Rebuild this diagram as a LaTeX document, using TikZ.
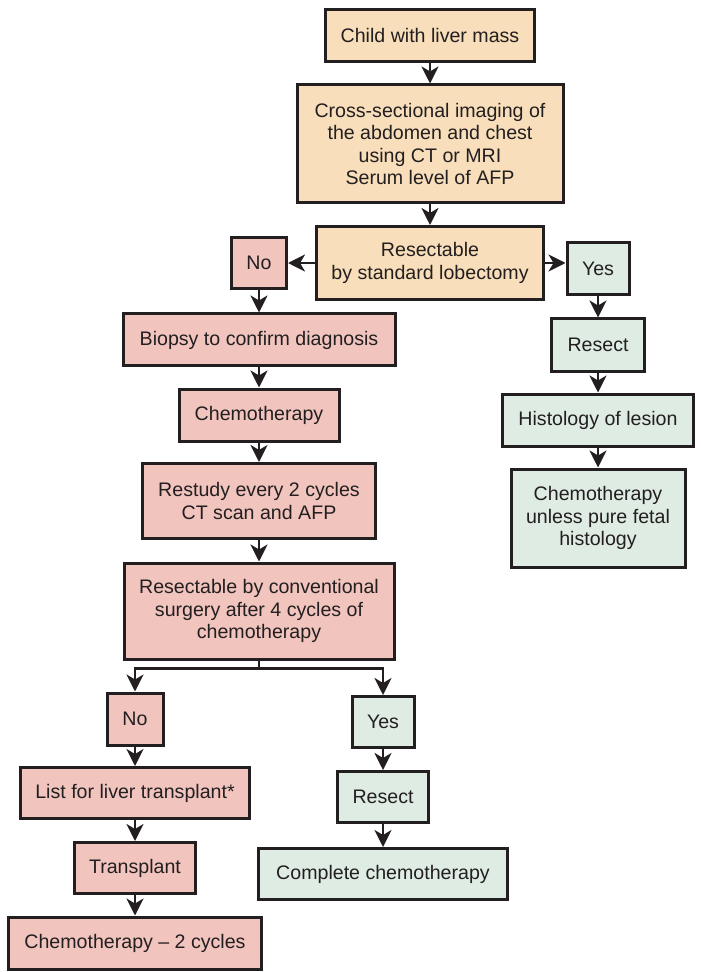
\documentclass[tikz,border=0pt]{standalone}
\usepackage{fontspec}
\setmainfont{Liberation Sans}
\usepackage{tikz}
\usetikzlibrary{arrows.meta, positioning}

\definecolor{tanbox}{RGB}{248,222,186}
\definecolor{pinkbox}{RGB}{241,196,190}
\definecolor{greenbox}{RGB}{222,236,227}
\definecolor{inkline}{RGB}{35,31,32}

\begin{document}
\begin{tikzpicture}[x=0.5pt, y=-0.5pt,
    every node/.style={font=\fontsize{9.8}{11.25}\selectfont, align=center, inner sep=0pt, text=inkline},
    tbox/.style={draw=inkline, line width=1.5pt, fill=tanbox},
    pbox/.style={draw=inkline, line width=1.5pt, fill=pinkbox},
    gbox/.style={draw=inkline, line width=1.5pt, fill=greenbox},
    arr/.style={-{Stealth[length=8.5pt, width=8.5pt, inset=2.5pt]}, line width=1.3pt, inkline}]
    \useasboundingbox (0,0) rectangle (700,972);

    % Top
    \node[tbox, minimum width=104.5pt, minimum height=26pt] (child) at (430,36) {Child with liver mass};
    \node[tbox, minimum width=133pt, minimum height=59pt] (imaging) at (430,144) {Cross-sectional imaging of\\the abdomen and chest\\using CT or MRI\\Serum level of AFP};
    \node[tbox, minimum width=113.5pt, minimum height=36.5pt] (lobect) at (430,263) {Resectable\\by standard lobectomy};

    % Left branch
    \node[pbox, minimum width=27.5pt, minimum height=25.5pt] (no1) at (259,263) {No};
    \node[pbox, minimum width=136pt, minimum height=26pt] (biopsy) at (259,340) {Biopsy to confirm diagnosis};
    \node[pbox, minimum width=80pt, minimum height=26pt] (chemo1) at (259,415) {Chemotherapy};
    \node[pbox, minimum width=116.5pt, minimum height=37.5pt] (restudy) at (259,501) {Restudy every 2 cycles\\CT scan and AFP};
    \node[pbox, minimum width=135pt, minimum height=48pt] (conv) at (259,611) {Resectable by conventional\\surgery after 4 cycles of\\chemotherapy};

    % Right branch
    \node[gbox, minimum width=31pt, minimum height=26pt] (yes1) at (598,269) {Yes};
    \node[gbox, minimum width=46.5pt, minimum height=26pt] (resect1) at (598,345) {Resect};
    \node[gbox, minimum width=95.5pt, minimum height=26pt] (histo) at (598,420) {Histology of lesion};
    \node[gbox, minimum width=87pt, minimum height=49pt] (chemo3) at (598,518) {Chemotherapy\\unless pure fetal\\histology};

    % Bottom, no
    \node[pbox, minimum width=28pt, minimum height=26pt] (no2) at (135,719) {No};
    \node[pbox, minimum width=114.5pt, minimum height=25.5pt] (list) at (135,793) {List for liver transplant*};
    \node[pbox, minimum width=60.5pt, minimum height=25.5pt] (transpl) at (135,868) {Transplant};
    \node[pbox, minimum width=126.5pt, minimum height=26pt] (chemo2) at (135,943) {Chemotherapy -- 2 cycles};

    % Bottom, yes
    \node[gbox, minimum width=31pt, minimum height=25.5pt] (yes2) at (383,722) {Yes};
    \node[gbox, minimum width=45.5pt, minimum height=25.5pt] (resect2) at (383,797) {Resect};
    \node[gbox, minimum width=124.5pt, minimum height=25.5pt] (complete) at (383,874) {Complete chemotherapy};

    % Edges
    \draw[arr] (child) -- (imaging);
    \draw[arr] (imaging) -- (lobect);
    \draw[arr] (lobect) -- (no1);
    \draw[arr] (lobect.east) -- (lobect.east -| yes1.west);
    \draw[arr] (no1) -- (biopsy);
    \draw[arr] (biopsy) -- (chemo1);
    \draw[arr] (chemo1) -- (restudy);
    \draw[arr] (restudy) -- (conv);
    \draw[arr] (yes1) -- (resect1);
    \draw[arr] (resect1) -- (histo);
    \draw[arr] (histo) -- (chemo3);
    \draw[arr] (conv.south) -- ++(0,8) -| (no2.north);
    \draw[arr] (conv.south) -- ++(0,8) -| (yes2.north);
    \draw[arr] (no2) -- (list);
    \draw[arr] (list) -- (transpl);
    \draw[arr] (transpl) -- (chemo2);
    \draw[arr] (yes2) -- (resect2);
    \draw[arr] (resect2) -- (complete);
\end{tikzpicture}
\end{document}
